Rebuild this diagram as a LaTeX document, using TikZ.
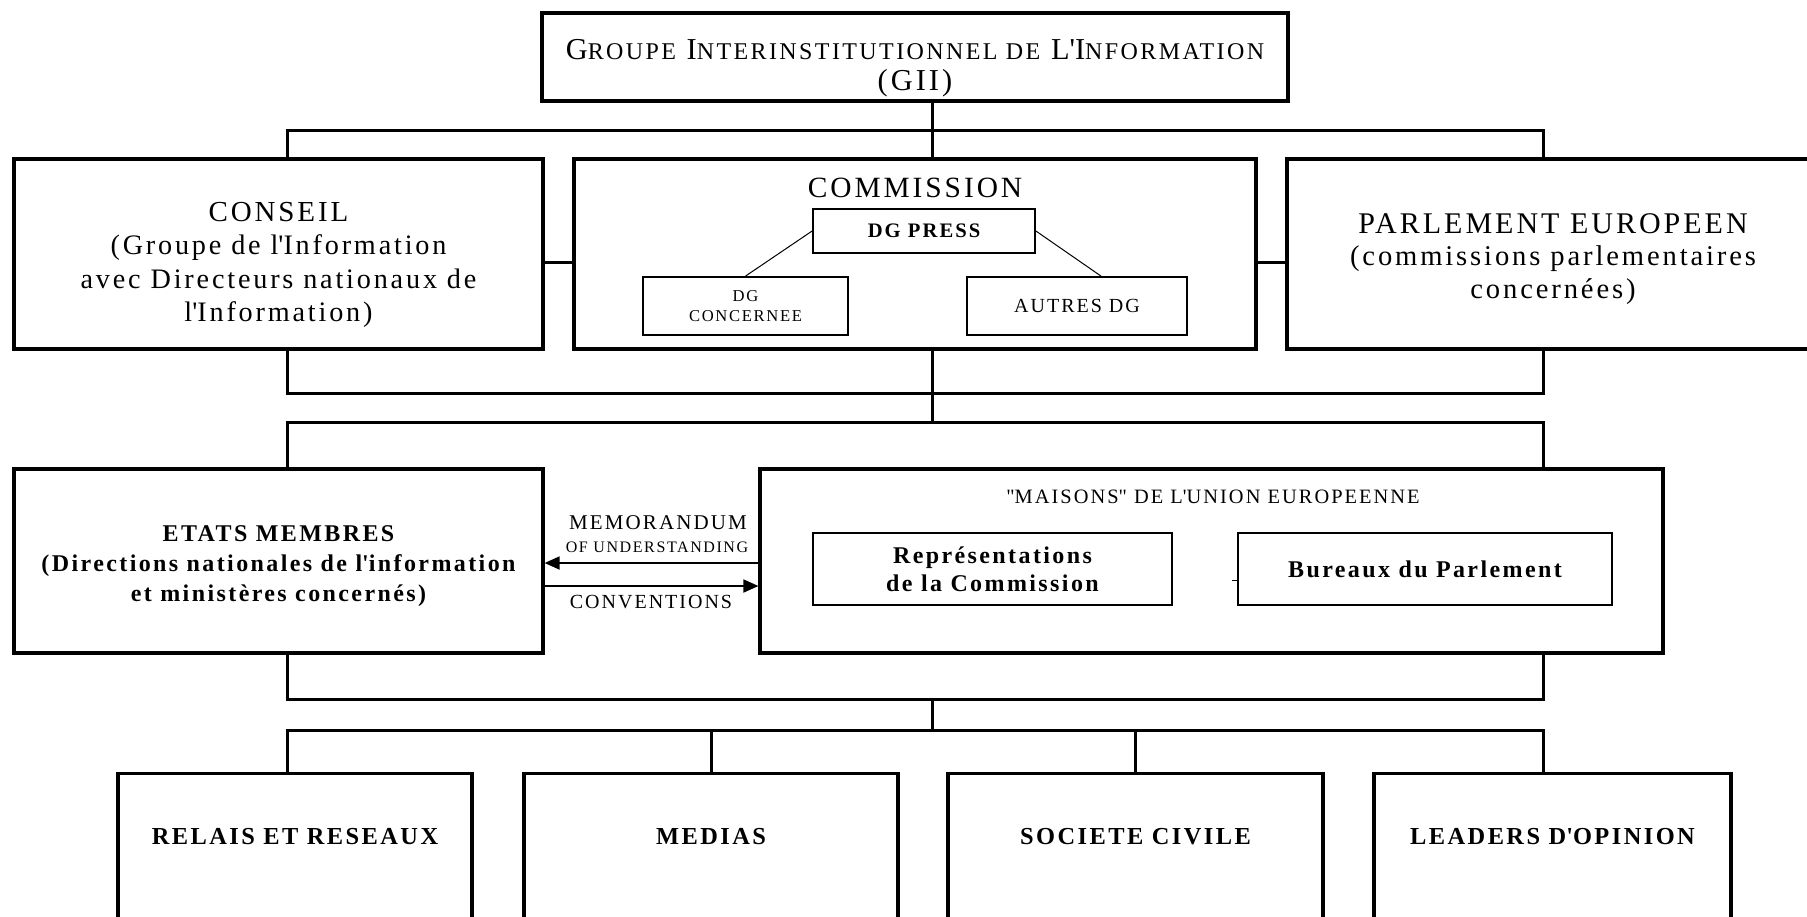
\documentclass[tikz,border=0pt]{standalone}
\usepackage{fontspec}
\setmainfont{Liberation Serif}[LetterSpace=10]
\usepackage{tikz}
\usetikzlibrary{positioning,arrows.meta,calc}

\newcommand\gsc[1]{{\fontsize{12}{15.5}\selectfont #1}}
\newcommand\ap{\textquotesingle}

\tikzset{
  dim/.style 2 args={minimum width=#1*0.5pt, minimum height=#2*0.5pt},
  box/.style={draw, line width=1.6pt, inner sep=0pt, align=center},
  inbox/.style={draw, line width=0.9pt, inner sep=0pt, align=center},
  txt/.style={inner sep=0pt, align=center},
  bus/.style={line width=1.5pt},
  twig/.style={line width=0.5pt},
  arrow/.style={-{Triangle[length=7.5pt,width=6.5pt]}, line width=0.9pt}
}

\begin{document}
\begin{tikzpicture}[x=0.5pt, y=-0.5pt]
  \useasboundingbox (0,0) rectangle (1807,916);
  \clip (0,0) rectangle (1807,916);

  \node[box, dim={746}{88}] (gii) at (915,57) {};
  \node[txt, font=\fontsize{15.2}{15.5}\selectfont] (gii-t) at (915,68)
    {G\gsc{ROUPE} I\gsc{NTERINSTITUTIONNEL DE} L\ap I\gsc{NFORMATION}\\(GII)};

  \node[box, dim={529}{190}] (conseil) at (278.5,254) {};
  \node[txt, font=\fontsize{14.1}{16.7}\selectfont] (conseil-t) at (278.5,265)
    {{\fontsize{14.5}{16.7}\selectfont CONSEIL}\\(Groupe de l\ap Information\\avec Directeurs nationaux de\\l\ap Information)};
  \node[box, dim={682}{190}] (comm) at (915,254) {};
  \node[txt, font=\fontsize{14.7}{16}\selectfont] (comm-t) at (915,188) {COMMISSION};
  \node[inbox, dim={222}{44}, font=\bfseries\fontsize{10.3}{12}\selectfont] (dgpress) at (924,231) {DG PRESS};
  \node[inbox, dim={205}{58}, font=\fontsize{8.3}{10}\selectfont] (dgconc) at (745.5,306) {DG\\CONCERNEE};
  \node[inbox, dim={220}{58}, font=\fontsize{10}{12}\selectfont] (autres) at (1077,306) {AUTRES DG};
  \node[box, dim={532}{190}] (parl) at (1553,254) {};
  \node[txt, font=\fontsize{14.3}{16.3}\selectfont] (parl-t) at (1553,259)
    {{\fontsize{15}{16.3}\selectfont PARLEMENT EUROPEEN}\\(commissions parlementaires\\concernées)};

  \node[box, dim={529}{184}] (etats) at (278.5,561) {};
  \node[txt, font=\bfseries\fontsize{12}{14.8}\selectfont] (etats-t) at (278.5,566)
    {ETATS MEMBRES\\(Directions nationales de l\ap information\\et ministères concernés)};
  \node[box, dim={903}{184}] (maisons) at (1211.5,561) {};
  \node[txt, font=\fontsize{10.2}{12}\selectfont] (maisons-t) at (1213,497)
    {\textquotedbl MAISONS\textquotedbl\ DE L\ap UNION EUROPEENNE};
  \node[inbox, dim={359}{72}, font=\bfseries\fontsize{12}{14}\selectfont] (rep) at (992.5,569)
    {Représentations\\de la Commission};
  \node[inbox, dim={374}{72}, font=\bfseries\fontsize{12}{14}\selectfont] (bur) at (1425,569)
    {Bureaux du Parlement};

  \node[txt, font=\fontsize{10.5}{12}\selectfont] (memo-t) at (658,523) {MEMORANDUM};
  \node[txt, font=\fontsize{8}{10}\selectfont] (und-t) at (657,547) {OF UNDERSTANDING};
  \node[txt, font=\fontsize{10}{12}\selectfont] (conv-t) at (651,602) {CONVENTIONS};

  \foreach \nm/\cx/\bw/\tx in {relais/295/354/RELAIS ET RESEAUX, medias/711/374/MEDIAS,
      societe/1135.5/375/SOCIETE CIVILE, leaders/1552.5/357/LEADERS D\ap OPINION}{
    \node[box, dim={\bw}{400}, anchor=north] (\nm) at (\cx,772) {};
    \node[txt, font=\bfseries\fontsize{12.2}{14}\selectfont] (\nm-t) at (\cx,837) {\tx};
  }

  \coordinate (lx) at (287,0);
  \coordinate (rx) at (1543,0);
  \coordinate (mx) at (932,0);
  \coordinate (y1) at (0,130);
  \coordinate (y2) at (0,393);
  \coordinate (y3) at (0,422);
  \coordinate (y4) at (0,699);
  \coordinate (y5) at (0,730);
  \coordinate (side) at (0,262);
  \coordinate (memo) at (0,563);
  \coordinate (conv) at (0,586);

  \draw[bus] (gii.south -| mx) -- (comm.north -| mx);
  \draw[bus] (conseil.north -| lx) -- (lx |- y1) -- (rx |- y1) -- (parl.north -| rx);
  \draw[bus] (conseil.east |- side) -- (comm.west |- side);
  \draw[bus] (comm.east |- side) -- (parl.west |- side);
  \draw[bus] (conseil.south -| lx) -- (lx |- y2) -- (rx |- y2) -- (parl.south -| rx);
  \draw[bus] (comm.south -| mx) -- (mx |- y3);
  \draw[bus] (etats.north -| lx) -- (lx |- y3) -- (rx |- y3) -- (maisons.north -| rx);
  \draw[bus] (etats.south -| lx) -- (lx |- y4) -- (rx |- y4) -- (maisons.south -| rx);
  \draw[bus] (mx |- y4) -- (mx |- y5);
  \draw[bus] (relais.north -| lx) -- (lx |- y5) -- (rx |- y5) -- (leaders.north -| rx);
  \draw[bus] (medias.north) -- (medias.north |- y5);
  \draw[bus] (societe.north) -- (societe.north |- y5);

  \draw[twig] (dgpress.west) -- (dgconc.north);
  \draw[twig] (dgpress.east) -- ([xshift=12pt]autres.north);
  \draw[twig] ([yshift=-5.5pt]bur.west) -- ++(-5,0);

  \draw[arrow] (maisons.west |- memo) -- (etats.east |- memo);
  \draw[arrow] (etats.east |- conv) -- (maisons.west |- conv);
\end{tikzpicture}
\end{document}
